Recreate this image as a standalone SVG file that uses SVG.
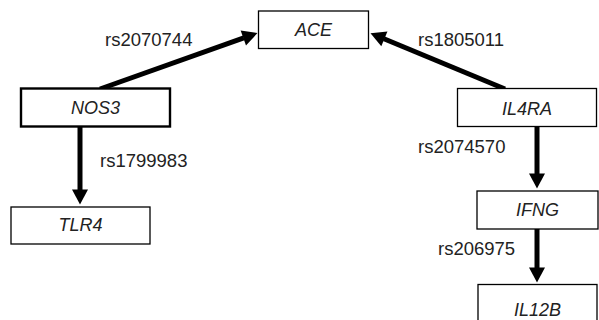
<svg xmlns="http://www.w3.org/2000/svg" width="599" height="320" viewBox="0 0 599 320">
  <style>
    .box { fill: #ffffff; stroke: #000000; stroke-width: 1.3; }
    .box.bold { stroke-width: 2.4; }
    .gene { font-family: "Liberation Sans", Arial, sans-serif; font-size: 18px; font-style: italic; fill: #222222; text-anchor: middle; }
    .snp { font-family: "Liberation Sans", Arial, sans-serif; font-size: 18.5px; fill: #222222; }
    .edge { stroke: #000000; stroke-width: 5; fill: none; marker-end: url(#head); }
  </style>
  <defs>
    <marker id="head" markerUnits="userSpaceOnUse" markerWidth="18" markerHeight="18" viewBox="0 -9 16 18" refX="0.5" refY="0" orient="auto">
      <path d="M0,-8 L15,0 L0,8 z" fill="#000000"/>
    </marker>
  </defs>

  <rect width="599" height="320" fill="#ffffff"/>

  <!-- connectors with their SNP labels -->
  <g id="connectors">
    <line class="edge" x1="100" y1="89" x2="243.8" y2="37.9"/>
    <line class="edge" x1="505" y1="89" x2="383.9" y2="38.7"/>
    <line class="edge" x1="80" y1="125" x2="80" y2="190"/>
    <line class="edge" x1="537" y1="126" x2="537" y2="174"/>
    <line class="edge" x1="537" y1="228" x2="537" y2="268"/>
    <text class="snp" x="105" y="45.5">rs2070744</text>
    <text class="snp" x="418" y="45.5">rs1805011</text>
    <text class="snp" x="100" y="166.5">rs1799983</text>
    <text class="snp" x="418" y="152.5">rs2074570</text>
    <text class="snp" x="438" y="255">rs206975</text>
  </g>

  <g id="ACE">
    <rect class="box" x="258.5" y="11" width="110" height="37.5"/>
    <text class="gene" x="313.5" y="35.5">ACE</text>
  </g>
  <g id="NOS3">
    <rect class="box bold" x="21" y="88.5" width="149" height="38"/>
    <text class="gene" x="95.5" y="113.5">NOS3</text>
  </g>
  <g id="IL4RA">
    <rect class="box" x="457.5" y="88.5" width="139" height="38"/>
    <text class="gene" x="527" y="115">IL4RA</text>
  </g>
  <g id="TLR4">
    <rect class="box" x="11" y="207" width="139" height="37"/>
    <text class="gene" x="80.5" y="231">TLR4</text>
  </g>
  <g id="IFNG">
    <rect class="box" x="477" y="191" width="121" height="38"/>
    <text class="gene" x="537.5" y="215.5">IFNG</text>
  </g>
  <g id="IL12B">
    <rect class="box" x="478" y="284.5" width="119" height="40"/>
    <text class="gene" x="537.5" y="316">IL12B</text>
  </g>
</svg>
